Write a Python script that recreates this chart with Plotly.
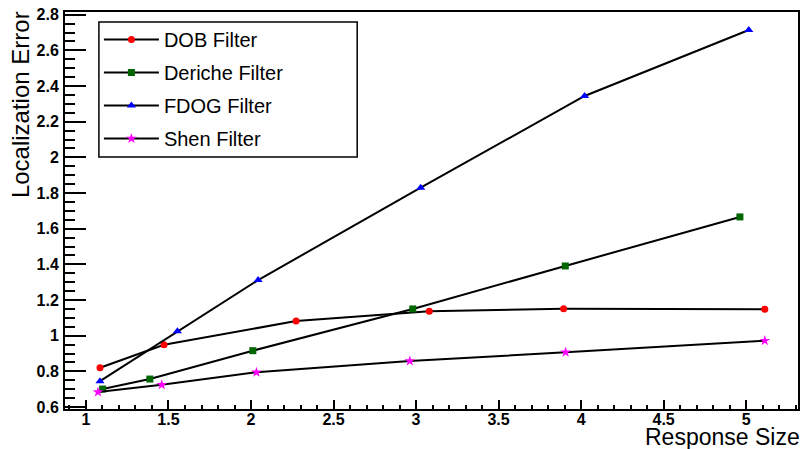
import plotly.graph_objects as go

# Data
dob_x = [1.085, 1.473, 2.273, 3.080, 3.894, 5.113]
dob_y = [0.820, 0.949, 1.082, 1.137, 1.151, 1.148]

deriche_x = [1.101, 1.387, 2.011, 2.980, 3.904, 4.962]
deriche_y = [0.701, 0.757, 0.916, 1.150, 1.391, 1.666]

fdog_x = [1.085, 1.554, 2.043, 3.028, 4.021, 5.016]
fdog_y = [0.745, 1.025, 1.312, 1.830, 2.344, 2.714]

shen_x = [1.073, 1.459, 2.033, 2.962, 3.906, 5.113]
shen_y = [0.684, 0.725, 0.795, 0.858, 0.907, 0.972]

series = [
    ("DOB Filter", dob_x, dob_y, "#ff0000", "circle", 7),
    ("Deriche Filter", deriche_x, deriche_y, "#006600", "square", 7),
    ("FDOG Filter", fdog_x, fdog_y, "#0000ff", "triangle-up", 8),
    ("Shen Filter", shen_x, shen_y, "#ff00ff", "star", 8),
]

FONT = "Liberation Sans"

fig = go.Figure()
for i, (name, xs, ys, col, sym, sz) in enumerate(series):
    fig.add_trace(go.Scatter(
        x=xs, y=ys, name=name, mode="lines+markers",
        line=dict(color="black", width=2),
        marker=dict(color=col, symbol=sym, size=sz, line=dict(width=0)),
        legendgroup=f"g{i}",
    ))

W, H = 802, 449
ml, mr, mt, mb = 65, 2, 12, 40
PW, PH = W - ml - mr, H - mt - mb

fig.update_layout(
    width=W, height=H,
    margin=dict(l=ml, r=mr, t=mt, b=mb),
    paper_bgcolor="white", plot_bgcolor="white",
    font=dict(family=FONT, color="black"),
    showlegend=True,
    legend=dict(
        x=(99 - ml) / PW, y=(H - mb - 20) / PH,
        xanchor="left", yanchor="top",
        bgcolor="rgba(0,0,0,0)", borderwidth=0,
        font=dict(family=FONT, size=20, color="black"),
        itemwidth=55, tracegroupgap=4,
    ),
    xaxis=dict(
        range=[0.873, 5.314], dtick=0.5, tick0=0,
        showgrid=False, zeroline=False,
        showline=True, linecolor="black", linewidth=2, mirror=True,
        ticks="inside", ticklen=9, tickwidth=1.5, tickcolor="black",
        minor=dict(dtick=0.1, ticks="inside", ticklen=4, tickwidth=1.5, tickcolor="black"),
        tickfont=dict(family=FONT, size=16, color="black", weight=700),
        ticklabelstandoff=-5,
    ),
    yaxis=dict(
        range=[0.589, 2.815], dtick=0.2, tick0=0,
        showgrid=False, zeroline=False,
        showline=True, linecolor="black", linewidth=2, mirror=True,
        ticks="inside", ticklen=21, tickwidth=1.5, tickcolor="black",
        minor=dict(dtick=0.05, ticks="inside", ticklen=10, tickwidth=1.5, tickcolor="black"),
        tickfont=dict(family=FONT, size=16, color="black", weight=700),
        ticklabelstandoff=1,
    ),
    shapes=[dict(
        type="rect", xref="paper", yref="paper",
        x0=(99 - ml) / PW, x1=(358 - ml) / PW,
        y0=(H - mb - 157) / PH, y1=(H - mb - 22) / PH,
        line=dict(color="black", width=1.5), fillcolor="rgba(0,0,0,0)",
    )],
    annotations=[
        dict(text="Response Size", xref="paper", yref="paper", x=1, y=0,
             xanchor="right", yanchor="top", yshift=-13, xshift=4, showarrow=False,
             font=dict(family=FONT, size=23, color="black")),
        dict(text="Localization Error", xref="paper", yref="paper",
             x=(20 - ml) / PW, y=(H - mb - 105) / PH,
             xanchor="center", yanchor="middle", textangle=-90, showarrow=False,
             font=dict(family=FONT, size=24, color="black")),
    ],
)

fig.write_html(
    "out.html",
    config={"displayModeBar": False},
    post_script="document.body.style.margin='0';document.body.style.overflow='hidden';",
)
